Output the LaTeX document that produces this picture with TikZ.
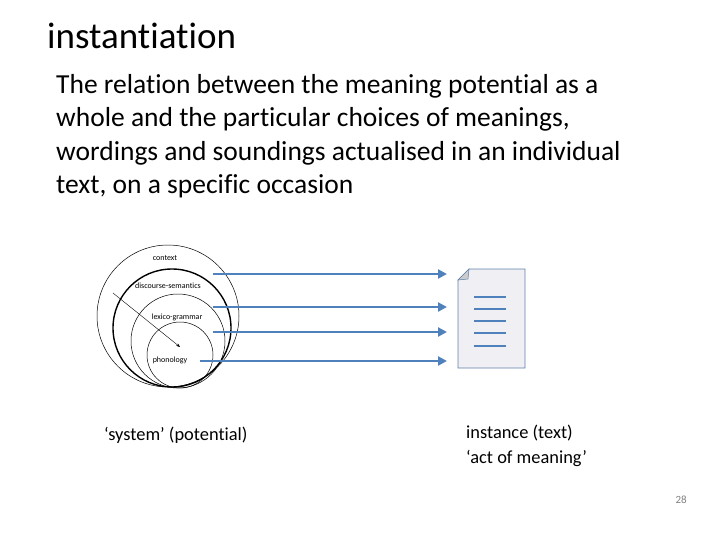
\documentclass[tikz,border=0pt]{standalone}
\usepackage{fontspec}
\setmainfont[Ligatures=NoCommon]{Carlito}
\usetikzlibrary{arrows.meta}
\definecolor{bl}{RGB}{79,129,189}
\definecolor{docfill}{RGB}{240,240,244}
\tikzset{
  circ/.style={draw=black, line width=0.5pt},
  blarrow/.style={draw=bl, line width=2.2pt, -{Triangle[length=9pt,width=9pt]}},
  lbl/.style={font=\fontsize{8}{9}\selectfont, inner sep=0pt},
  doclines/.style={draw=bl, line width=1.5pt}
}
\begin{document}
\begin{tikzpicture}[x=1pt,y=-1pt]
\useasboundingbox (0,0) rectangle (720,540);
\node[anchor=west, inner sep=0pt, font=\fontsize{37}{40}\selectfont] (title) at (47,36) {instantiation};
\node[anchor=north west, inner sep=0pt, align=left, font=\fontsize{27.5}{33.5}\selectfont] (body) at (56,74)
 {The relation between the meaning potential as a\\whole and the particular choices of meanings,\\wordings and soundings actualised in an individual\\text, on a specific occasion};
% circles
\draw[circ] (168,316) circle (71);
\draw[draw=black, line width=1.4pt] (172,328) circle (59);
\draw[circ] (178,341) circle (47);
\draw[circ] (180,355) circle (33);
\node[lbl] (ctx) at (165,258) {context};
\node[lbl] (ds) at (168,286) {discourse-semantics};
\node[lbl] (lg) at (177,317) {lexico-grammar};
\node[lbl] (ph) at (170,360) {phonology};
\coordinate (a0) at (113,293);
\coordinate (a1) at (180,347);
\draw[-{Stealth[length=4pt]}, line width=0.4pt] (a0) -- (a1);
% document
\draw[draw=bl!70!gray, fill=docfill, line width=0.7pt] (458,280) -- (469,269) -- (525,269) -- (525,368) -- (458,368) -- cycle;
\draw[draw=bl!70!gray, fill=gray!40, line width=0.5pt] (458,280) -- (469,269) -- (468,279) -- cycle;
\foreach \yy in {297,309,321,333,346} \draw[doclines] (474,\yy) -- (506,\yy);
\coordinate (s1) at (213,274); \coordinate (e1) at (447,274);
\coordinate (s2) at (213,307); \coordinate (e2) at (447,307);
\coordinate (s3) at (213,332); \coordinate (e3) at (447,332);
\coordinate (s4) at (200,361); \coordinate (e4) at (447,361);
\draw[blarrow] (s1) -- (e1);
\draw[blarrow] (s2) -- (e2);
\draw[blarrow] (s3) -- (e3);
\draw[blarrow] (s4) -- (e4);
\node[anchor=west, inner sep=0pt, font=\fontsize{18.4}{22}\selectfont] (sys) at (104,435) {‘system’ (potential)};
\node[anchor=north west, inner sep=0pt, align=left, font=\fontsize{18.4}{25}\selectfont] (inst) at (466,425) {instance (text)\\‘act of meaning’};
\node[anchor=east, inner sep=0pt, text=gray, font=\fontsize{11}{12}\selectfont] (pg) at (687,500) {28};
\end{tikzpicture}
\end{document}
